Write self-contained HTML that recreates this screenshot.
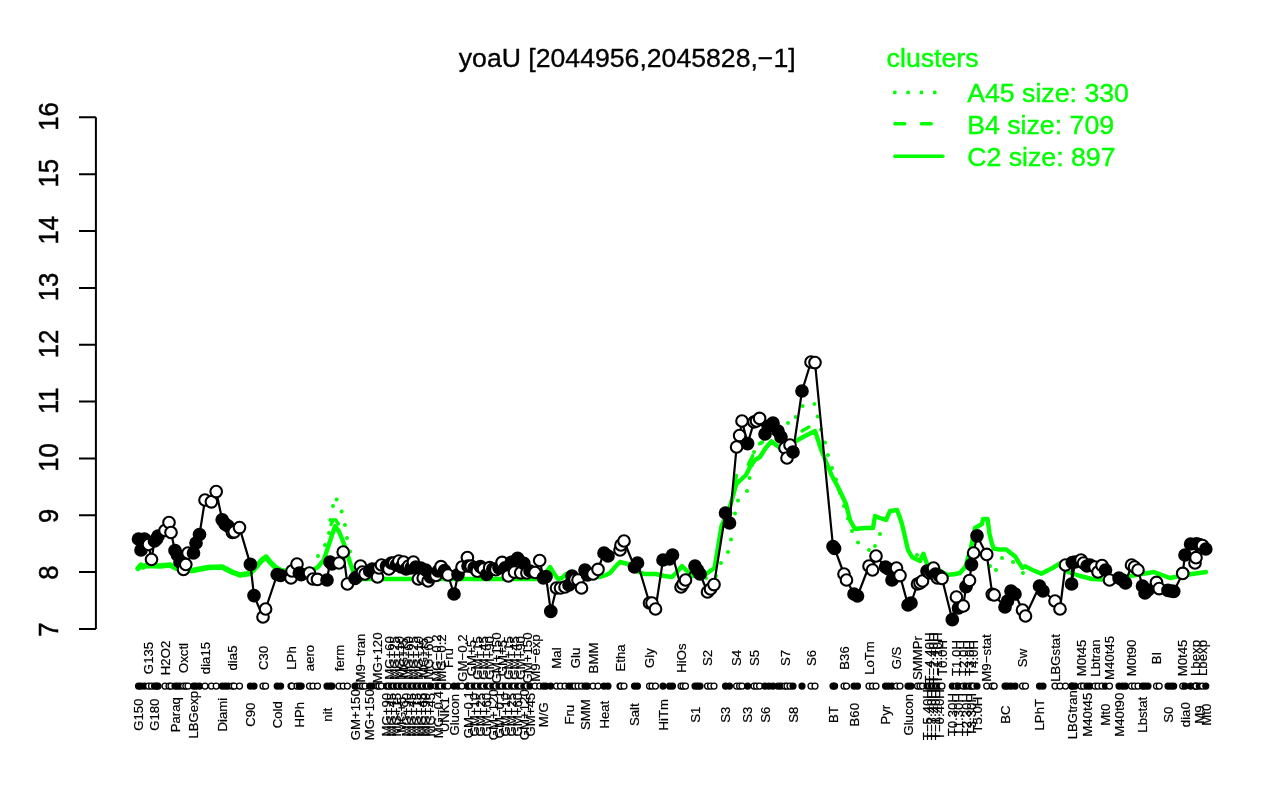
<!DOCTYPE html>
<html><head><meta charset="utf-8"><title>yoaU</title>
<style>html,body{margin:0;padding:0;background:#fff}svg{display:block}text{font-family:"Liberation Sans",sans-serif;}</style></head><body>
<div style="will-change:transform;width:1280px;height:800px">
<svg width="1280" height="800" viewBox="0 0 1280 800">
<text x="458.8" y="67" font-size="26.7" fill="#000" stroke="#000" stroke-width="0.35" textLength="336.8" lengthAdjust="spacingAndGlyphs">yoaU [2044956,2045828,−1]</text>
<g fill="#00ff00" font-size="26.7" stroke="#00ff00" stroke-width="0.4">
<text x="886.6" y="67" textLength="92" lengthAdjust="spacingAndGlyphs">clusters</text>
<text x="967.2" y="102">A45 size: 330</text>
<text x="967.2" y="134">B4 size: 709</text>
<text x="967.2" y="166">C2 size: 897</text>
</g>
<g stroke="#00ff00" stroke-width="3.5" fill="none" stroke-linecap="round">
<path d="M894.8 92.4H944" stroke-width="3.9" stroke-dasharray="0.01 13.32"/>
<path d="M894.9 123.8H944" stroke-dasharray="9.8 16.7"/>
<path d="M894.9 156.2H942.9"/>
</g>
<g stroke="#000" stroke-width="2" fill="none">
<path d="M95.9 629 V117.3 M95.9 629 H79 M95.9 572.1 H79 M95.9 515.3 H79 M95.9 458.4 H79 M95.9 401.6 H79 M95.9 344.8 H79 M95.9 287.9 H79 M95.9 231.1 H79 M95.9 174.2 H79 M95.9 117.3 H79"/>
</g>
<g font-size="28" fill="#000" stroke="#000" stroke-width="0.5" text-anchor="middle" style="filter:grayscale(1)">
<text transform="translate(57.9 629.5) rotate(-90) scale(0.917 1.02)">7</text>
<text transform="translate(57.9 572.6) rotate(-90) scale(0.917 1.02)">8</text>
<text transform="translate(57.9 515.8) rotate(-90) scale(0.917 1.02)">9</text>
<text transform="translate(57.9 457.6) rotate(-90) scale(0.917 1.02)">10</text>
<text transform="translate(57.9 400.7) rotate(-90) scale(0.917 1.02)">11</text>
<text transform="translate(57.9 343.9) rotate(-90) scale(0.917 1.02)">12</text>
<text transform="translate(57.9 287) rotate(-90) scale(0.917 1.02)">13</text>
<text transform="translate(57.9 230.2) rotate(-90) scale(0.917 1.02)">14</text>
<text transform="translate(57.9 173.3) rotate(-90) scale(0.917 1.02)">15</text>
<text transform="translate(57.9 116.4) rotate(-90) scale(0.917 1.02)">16</text>
</g>
<polyline fill="none" stroke="#00ff00" stroke-width="5.4" stroke-linejoin="round" stroke-linecap="round" points="138,568.5 141,565 143,567 146,565.5 160,566 170,565 176,568 185,570 193,570.5 200,569 208,567.5 222,567 232,572 240,575 250,573.5 256,567 262,560 266,557 270,562 276,568 282,571 300,571 312,570"/>
<polyline fill="none" stroke="#00ff00" stroke-width="4.4" stroke-linejoin="round" stroke-linecap="round" points="312,570 317.5,567.5 323.8,560 327.5,548.8 331.2,537.5 335,526.2 338.8,531.2 342.5,540 346.2,550 350,562.5 353,571 356,577 359,579 400,579 450,579 500,579 545,579 548,570 550,567 553,572 558,579 562,578 566,574 575,576 600,577 606,575 610,573 615,567 620,562 628,564 634,570 644,574 656,574 664,576 672,577 677,572 682,566 686,570 692,576 700,575 706,574 714.5,568 717.5,550 721.5,526 729.5,508 733,496 736.3,484 738,482.5 746,475 750.5,466 755,460 760,457 765.6,448 771.5,441.3 776,445 780,448 787,445 794,442 805,436 815,431 818,440 822,452 827,464 832,476 838,487 846,504 850,520 855,529 864,528 873,528 875,516 880,518 886,520 890,511 897,510 899,515 902,524 905,537 908,550 912,557 920,561 923.4,553.7 927,564 935,568 942,572 947.5,575 955,574 960,573 965.4,566.7 971,547.5 975,528 982,524 983,519 987.6,519 989.5,533.7 992,544 993.8,548.8 1000,549.5 1006.2,549.4 1010,552.5 1015,556.2 1018.8,562.5 1022.5,568 1025,566.2 1033.8,570.6 1041.2,573.8 1052.5,568 1060,563.5 1064,568 1068,572 1080,576 1092,579 1110,580 1130,576 1154,572 1162,575 1170,578 1180,576 1192,574 1206,572"/>
<polyline fill="none" stroke="#00ff00" stroke-width="3.4" stroke-linecap="round" points="331,524.5 333.3,519.8"/>
<polyline fill="none" stroke="#00ff00" stroke-width="3.4" stroke-linecap="round" points="335.7,519.8 338.3,524"/>
<polyline fill="none" stroke="#00ff00" stroke-width="3.4" stroke-linecap="round" points="734.8,485.5 736.5,475.5"/>
<polyline fill="none" stroke="#00ff00" stroke-width="3.4" stroke-linecap="round" points="748.3,464.5 752.8,455.5"/>
<polyline fill="none" stroke="#00ff00" stroke-width="3.4" stroke-linecap="round" points="759.5,443.8 762.5,442"/>
<polyline fill="none" stroke="#00ff00" stroke-width="3.4" stroke-linecap="round" points="802,431 809,427"/>
<g fill="#00ff00">
<circle cx="318" cy="556" r="2"/>
<circle cx="325" cy="545" r="2"/>
<circle cx="329" cy="533" r="2"/>
<circle cx="330.4" cy="520" r="2"/>
<circle cx="333" cy="506" r="2"/>
<circle cx="336.6" cy="499.4" r="2"/>
<circle cx="341.6" cy="511.6" r="2"/>
<circle cx="345" cy="525" r="2"/>
<circle cx="347" cy="538" r="2"/>
<circle cx="350" cy="551.5" r="2"/>
<circle cx="706" cy="578" r="2"/>
<circle cx="716" cy="576" r="2"/>
<circle cx="721" cy="563" r="2"/>
<circle cx="728" cy="552" r="2"/>
<circle cx="731" cy="539.6" r="2"/>
<circle cx="733" cy="526" r="2"/>
<circle cx="735" cy="513.6" r="2"/>
<circle cx="738" cy="500.6" r="2"/>
<circle cx="747" cy="491" r="2"/>
<circle cx="749.6" cy="478" r="2"/>
<circle cx="752" cy="465" r="2"/>
<circle cx="754" cy="452" r="2"/>
<circle cx="761" cy="443" r="2"/>
<circle cx="788" cy="423" r="2"/>
<circle cx="795.6" cy="417" r="2"/>
<circle cx="802.6" cy="406" r="2"/>
<circle cx="814.4" cy="404" r="2"/>
<circle cx="817.6" cy="416.6" r="2"/>
<circle cx="821" cy="429.4" r="2"/>
<circle cx="825" cy="442.4" r="2"/>
<circle cx="828" cy="455" r="2"/>
<circle cx="832" cy="468" r="2"/>
<circle cx="836" cy="479.5" r="2"/>
<circle cx="840" cy="493" r="2"/>
<circle cx="844" cy="506" r="2"/>
<circle cx="848" cy="518.5" r="2"/>
<circle cx="852" cy="531" r="2"/>
<circle cx="858" cy="542.4" r="2"/>
<circle cx="869" cy="550" r="2"/>
<circle cx="875" cy="546" r="2"/>
<circle cx="880" cy="534" r="2"/>
<circle cx="917" cy="555" r="2"/>
<circle cx="990" cy="566" r="2"/>
<circle cx="996" cy="570" r="2"/>
<circle cx="1002" cy="558" r="2"/>
<circle cx="1013" cy="562" r="2"/>
<circle cx="1023" cy="573" r="2"/>
</g>
<polyline fill="none" stroke="#000" stroke-width="2.2" stroke-linejoin="round" points="138.5,539 141,550 144.5,539 148.5,544.5 151.5,559.5 154.5,541 156.5,539 158,536 165,530.5 169,522.5 171,532.5 175,550.5 177.5,555 180,562 183.5,569.5 185.8,564.5 188,553 193.5,553 196,543 199.5,534.5 205,500 211.4,501.8 216.2,491.6 222.2,519.8 225.2,524.2 228,526 232.4,532.5 234.2,531.8 239.5,527.6 250.4,564.4 254,595.6 263,617 265.6,609 277.2,574.5 280.6,575.5 291,578 292,571 297,564 299.3,573 301.2,574.6 309.5,573 313,579 317.5,579.4 327,580 330,562 332,564 339,563 343.2,552 347.4,584 355,578.5 356.5,577 360.5,566 362.5,572 365,574 369.7,571 372.3,569 377.5,577 379,568 381.5,565 386.5,566 388.9,569 391.4,563 393.9,563 396.3,565 398.8,561 401.2,567 403.6,562 406.1,569 408.6,566 411,568 413.4,562 415.9,567 418.4,579 420.8,568 423.2,578 425.7,570 428.1,581 430.6,577 436,575.5 438.2,571 441,566.7 444.5,570.6 448,575 454,594 458,574.6 462,567 467.4,557.5 468,566 471.1,566.2 474.2,567.9 477.3,571.2 480.4,566.6 483.5,569 486.6,574.5 489.7,567.7 492.8,569.1 495.9,569.7 499,567.8 502.1,562.4 505.2,567.9 508.3,575.9 511.4,562.3 514.5,572.1 517.6,558.3 520.7,572.8 523.8,563.4 526.9,572.9 530,571 535,572.5 539.7,560.5 543.4,577.8 546,576.7 550.8,611.4 556.5,588 560.5,588 565,587 569,585 572,576 575,579.5 578,580 581.5,588 585,570 587.5,575 593,574 598,569.4 604,553 608,556 620,550 621,545 624,541 634.5,567 637.5,563 649.5,603 652,603 655.5,609 663,560 669.5,559 672.5,555 681,587 683,584 685.5,580 695,566 697.5,570 700,574 707.5,592 710.5,589 714,584.6 725.5,513 729.5,523 736.6,447 739.6,435.6 742,421 747.6,443.6 754,422 756.5,421 759.6,418.4 765,434 769,426 773,423 778,431 781,437 785,448 787,458 790,445 793,452 802,391 811,362 815,362.6 833,546.5 834.6,548.5 844,574 846.5,580 854,594 857.5,596 869,566 872.5,570 876,556 885.5,567 888.5,569 892,580 896.5,568 900,575.6 908,605 911,603 917.5,584 920,583 922.5,581 927,571 929.5,573 931.5,572 933.5,568 935.5,574 937.5,578 939.5,576 942,578.4 952.3,619.7 956.4,597 958.5,608 963.3,606 966,586.7 969.5,580.5 971.5,564.7 973.6,553 977,535.8 986.7,554.4 992.3,594.3 994.2,595 1005,607 1007.5,601 1011,591 1015,594 1022.5,610 1025.5,616 1039.5,586 1043,591 1055,601 1060,609 1065.5,565 1072.3,562.5 1071.6,584 1075,562 1081,560 1083.5,563 1087,566 1090,565 1095,567 1098,572 1102,565.5 1105.5,570 1109.5,580 1119,578 1122.5,580 1125.5,583 1131.5,565 1134.5,567 1138,570 1142.5,586 1145,593 1148,590 1156.5,582.4 1159.2,588.6 1168,590.3 1171,591 1173.7,591.4 1182.7,573.4 1185,555 1190.6,544 1196.5,543.8 1195,563 1196,557.7 1199.3,544.5 1202.5,545.5 1205.8,549"/>
<g stroke="#000" stroke-width="2.1">
<circle cx="138.5" cy="539" r="5.8" fill="#000"/>
<circle cx="141" cy="550" r="5.8" fill="#000"/>
<circle cx="144.5" cy="539" r="5.8" fill="#000"/>
<circle cx="148.5" cy="544.5" r="5.8" fill="#fff"/>
<circle cx="151.5" cy="559.5" r="5.8" fill="#fff"/>
<circle cx="154.5" cy="541" r="5.8" fill="#000"/>
<circle cx="156.5" cy="539" r="5.8" fill="#000"/>
<circle cx="158" cy="536" r="5.8" fill="#000"/>
<circle cx="165" cy="530.5" r="5.8" fill="#fff"/>
<circle cx="169" cy="522.5" r="5.8" fill="#fff"/>
<circle cx="171" cy="532.5" r="5.8" fill="#fff"/>
<circle cx="175" cy="550.5" r="5.8" fill="#000"/>
<circle cx="177.5" cy="555" r="5.8" fill="#000"/>
<circle cx="180" cy="562" r="5.8" fill="#000"/>
<circle cx="183.5" cy="569.5" r="5.8" fill="#fff"/>
<circle cx="185.8" cy="564.5" r="5.8" fill="#fff"/>
<circle cx="188" cy="553" r="5.8" fill="#fff"/>
<circle cx="193.5" cy="553" r="5.8" fill="#000"/>
<circle cx="196" cy="543" r="5.8" fill="#000"/>
<circle cx="199.5" cy="534.5" r="5.8" fill="#000"/>
<circle cx="205" cy="500" r="5.8" fill="#fff"/>
<circle cx="211.4" cy="501.8" r="5.8" fill="#fff"/>
<circle cx="216.2" cy="491.6" r="5.8" fill="#fff"/>
<circle cx="222.2" cy="519.8" r="5.8" fill="#000"/>
<circle cx="225.2" cy="524.2" r="5.8" fill="#000"/>
<circle cx="228" cy="526" r="5.8" fill="#000"/>
<circle cx="232.4" cy="532.5" r="5.8" fill="#fff"/>
<circle cx="234.2" cy="531.8" r="5.8" fill="#fff"/>
<circle cx="239.5" cy="527.6" r="5.8" fill="#fff"/>
<circle cx="250.4" cy="564.4" r="5.8" fill="#000"/>
<circle cx="254" cy="595.6" r="5.8" fill="#000"/>
<circle cx="263" cy="617" r="5.8" fill="#fff"/>
<circle cx="265.6" cy="609" r="5.8" fill="#fff"/>
<circle cx="277.2" cy="574.5" r="5.8" fill="#000"/>
<circle cx="280.6" cy="575.5" r="5.8" fill="#000"/>
<circle cx="291" cy="578" r="5.8" fill="#fff"/>
<circle cx="292" cy="571" r="5.8" fill="#fff"/>
<circle cx="297" cy="564" r="5.8" fill="#fff"/>
<circle cx="299.3" cy="573" r="5.8" fill="#000"/>
<circle cx="301.2" cy="574.6" r="5.8" fill="#000"/>
<circle cx="309.5" cy="573" r="5.8" fill="#fff"/>
<circle cx="313" cy="579" r="5.8" fill="#fff"/>
<circle cx="317.5" cy="579.4" r="5.8" fill="#fff"/>
<circle cx="327" cy="580" r="5.8" fill="#000"/>
<circle cx="330" cy="562" r="5.8" fill="#000"/>
<circle cx="332" cy="564" r="5.8" fill="#000"/>
<circle cx="339" cy="563" r="5.8" fill="#fff"/>
<circle cx="343.2" cy="552" r="5.8" fill="#fff"/>
<circle cx="347.4" cy="584" r="5.8" fill="#fff"/>
<circle cx="355" cy="578.5" r="5.8" fill="#000"/>
<circle cx="356.5" cy="577" r="5.8" fill="#000"/>
<circle cx="360.5" cy="566" r="5.8" fill="#fff"/>
<circle cx="362.5" cy="572" r="5.8" fill="#fff"/>
<circle cx="365" cy="574" r="5.8" fill="#fff"/>
<circle cx="369.7" cy="571" r="5.8" fill="#000"/>
<circle cx="372.3" cy="569" r="5.8" fill="#000"/>
<circle cx="377.5" cy="577" r="5.8" fill="#fff"/>
<circle cx="379" cy="568" r="5.8" fill="#fff"/>
<circle cx="381.5" cy="565" r="5.8" fill="#fff"/>
<circle cx="386.5" cy="566" r="5.8" fill="#000"/>
<circle cx="388.9" cy="569" r="5.8" fill="#fff"/>
<circle cx="391.4" cy="563" r="5.8" fill="#000"/>
<circle cx="393.9" cy="563" r="5.8" fill="#fff"/>
<circle cx="396.3" cy="565" r="5.8" fill="#000"/>
<circle cx="398.8" cy="561" r="5.8" fill="#fff"/>
<circle cx="401.2" cy="567" r="5.8" fill="#000"/>
<circle cx="403.6" cy="562" r="5.8" fill="#fff"/>
<circle cx="406.1" cy="569" r="5.8" fill="#000"/>
<circle cx="408.6" cy="566" r="5.8" fill="#fff"/>
<circle cx="411" cy="568" r="5.8" fill="#000"/>
<circle cx="413.4" cy="562" r="5.8" fill="#fff"/>
<circle cx="415.9" cy="567" r="5.8" fill="#000"/>
<circle cx="418.4" cy="579" r="5.8" fill="#fff"/>
<circle cx="420.8" cy="568" r="5.8" fill="#000"/>
<circle cx="423.2" cy="578" r="5.8" fill="#fff"/>
<circle cx="425.7" cy="570" r="5.8" fill="#000"/>
<circle cx="428.1" cy="581" r="5.8" fill="#fff"/>
<circle cx="430.6" cy="577" r="5.8" fill="#000"/>
<circle cx="436" cy="575.5" r="5.8" fill="#fff"/>
<circle cx="438.2" cy="571" r="5.8" fill="#000"/>
<circle cx="441" cy="566.7" r="5.8" fill="#fff"/>
<circle cx="444.5" cy="570.6" r="5.8" fill="#000"/>
<circle cx="448" cy="575" r="5.8" fill="#fff"/>
<circle cx="454" cy="594" r="5.8" fill="#000"/>
<circle cx="458" cy="574.6" r="5.8" fill="#000"/>
<circle cx="462" cy="567" r="5.8" fill="#fff"/>
<circle cx="467.4" cy="557.5" r="5.8" fill="#fff"/>
<circle cx="468" cy="566" r="5.8" fill="#000"/>
<circle cx="471.1" cy="566.2" r="5.8" fill="#fff"/>
<circle cx="474.2" cy="567.9" r="5.8" fill="#000"/>
<circle cx="477.3" cy="571.2" r="5.8" fill="#fff"/>
<circle cx="480.4" cy="566.6" r="5.8" fill="#000"/>
<circle cx="483.5" cy="569" r="5.8" fill="#fff"/>
<circle cx="486.6" cy="574.5" r="5.8" fill="#000"/>
<circle cx="489.7" cy="567.7" r="5.8" fill="#fff"/>
<circle cx="492.8" cy="569.1" r="5.8" fill="#000"/>
<circle cx="495.9" cy="569.7" r="5.8" fill="#fff"/>
<circle cx="499" cy="567.8" r="5.8" fill="#000"/>
<circle cx="502.1" cy="562.4" r="5.8" fill="#fff"/>
<circle cx="505.2" cy="567.9" r="5.8" fill="#000"/>
<circle cx="508.3" cy="575.9" r="5.8" fill="#fff"/>
<circle cx="511.4" cy="562.3" r="5.8" fill="#000"/>
<circle cx="514.5" cy="572.1" r="5.8" fill="#fff"/>
<circle cx="517.6" cy="558.3" r="5.8" fill="#000"/>
<circle cx="520.7" cy="572.8" r="5.8" fill="#fff"/>
<circle cx="523.8" cy="563.4" r="5.8" fill="#000"/>
<circle cx="526.9" cy="572.9" r="5.8" fill="#fff"/>
<circle cx="530" cy="571" r="5.8" fill="#000"/>
<circle cx="535" cy="572.5" r="5.8" fill="#fff"/>
<circle cx="539.7" cy="560.5" r="5.8" fill="#fff"/>
<circle cx="543.4" cy="577.8" r="5.8" fill="#000"/>
<circle cx="546" cy="576.7" r="5.8" fill="#000"/>
<circle cx="550.8" cy="611.4" r="5.8" fill="#000"/>
<circle cx="556.5" cy="588" r="5.8" fill="#fff"/>
<circle cx="560.5" cy="588" r="5.8" fill="#fff"/>
<circle cx="565" cy="587" r="5.8" fill="#fff"/>
<circle cx="569" cy="585" r="5.8" fill="#000"/>
<circle cx="572" cy="576" r="5.8" fill="#000"/>
<circle cx="575" cy="579.5" r="5.8" fill="#fff"/>
<circle cx="578" cy="580" r="5.8" fill="#fff"/>
<circle cx="581.5" cy="588" r="5.8" fill="#fff"/>
<circle cx="585" cy="570" r="5.8" fill="#000"/>
<circle cx="587.5" cy="575" r="5.8" fill="#000"/>
<circle cx="593" cy="574" r="5.8" fill="#fff"/>
<circle cx="598" cy="569.4" r="5.8" fill="#fff"/>
<circle cx="604" cy="553" r="5.8" fill="#000"/>
<circle cx="608" cy="556" r="5.8" fill="#000"/>
<circle cx="620" cy="550" r="5.8" fill="#fff"/>
<circle cx="621" cy="545" r="5.8" fill="#fff"/>
<circle cx="624" cy="541" r="5.8" fill="#fff"/>
<circle cx="634.5" cy="567" r="5.8" fill="#000"/>
<circle cx="637.5" cy="563" r="5.8" fill="#000"/>
<circle cx="649.5" cy="603" r="5.8" fill="#fff"/>
<circle cx="652" cy="603" r="5.8" fill="#fff"/>
<circle cx="655.5" cy="609" r="5.8" fill="#fff"/>
<circle cx="663" cy="560" r="5.8" fill="#000"/>
<circle cx="669.5" cy="559" r="5.8" fill="#000"/>
<circle cx="672.5" cy="555" r="5.8" fill="#000"/>
<circle cx="681" cy="587" r="5.8" fill="#fff"/>
<circle cx="683" cy="584" r="5.8" fill="#fff"/>
<circle cx="685.5" cy="580" r="5.8" fill="#fff"/>
<circle cx="695" cy="566" r="5.8" fill="#000"/>
<circle cx="697.5" cy="570" r="5.8" fill="#000"/>
<circle cx="700" cy="574" r="5.8" fill="#000"/>
<circle cx="707.5" cy="592" r="5.8" fill="#fff"/>
<circle cx="710.5" cy="589" r="5.8" fill="#fff"/>
<circle cx="714" cy="584.6" r="5.8" fill="#fff"/>
<circle cx="725.5" cy="513" r="5.8" fill="#000"/>
<circle cx="729.5" cy="523" r="5.8" fill="#000"/>
<circle cx="736.6" cy="447" r="5.8" fill="#fff"/>
<circle cx="739.6" cy="435.6" r="5.8" fill="#fff"/>
<circle cx="742" cy="421" r="5.8" fill="#fff"/>
<circle cx="747.6" cy="443.6" r="5.8" fill="#000"/>
<circle cx="754" cy="422" r="5.8" fill="#fff"/>
<circle cx="756.5" cy="421" r="5.8" fill="#fff"/>
<circle cx="759.6" cy="418.4" r="5.8" fill="#fff"/>
<circle cx="765" cy="434" r="5.8" fill="#000"/>
<circle cx="769" cy="426" r="5.8" fill="#000"/>
<circle cx="773" cy="423" r="5.8" fill="#000"/>
<circle cx="778" cy="431" r="5.8" fill="#000"/>
<circle cx="781" cy="437" r="5.8" fill="#000"/>
<circle cx="785" cy="448" r="5.8" fill="#fff"/>
<circle cx="787" cy="458" r="5.8" fill="#fff"/>
<circle cx="790" cy="445" r="5.8" fill="#fff"/>
<circle cx="793" cy="452" r="5.8" fill="#000"/>
<circle cx="802" cy="391" r="5.8" fill="#000"/>
<circle cx="811" cy="362" r="5.8" fill="#fff"/>
<circle cx="815" cy="362.6" r="5.8" fill="#fff"/>
<circle cx="833" cy="546.5" r="5.8" fill="#000"/>
<circle cx="834.6" cy="548.5" r="5.8" fill="#000"/>
<circle cx="844" cy="574" r="5.8" fill="#fff"/>
<circle cx="846.5" cy="580" r="5.8" fill="#fff"/>
<circle cx="854" cy="594" r="5.8" fill="#000"/>
<circle cx="857.5" cy="596" r="5.8" fill="#000"/>
<circle cx="869" cy="566" r="5.8" fill="#fff"/>
<circle cx="872.5" cy="570" r="5.8" fill="#fff"/>
<circle cx="876" cy="556" r="5.8" fill="#fff"/>
<circle cx="885.5" cy="567" r="5.8" fill="#000"/>
<circle cx="888.5" cy="569" r="5.8" fill="#000"/>
<circle cx="892" cy="580" r="5.8" fill="#000"/>
<circle cx="896.5" cy="568" r="5.8" fill="#fff"/>
<circle cx="900" cy="575.6" r="5.8" fill="#fff"/>
<circle cx="908" cy="605" r="5.8" fill="#000"/>
<circle cx="911" cy="603" r="5.8" fill="#000"/>
<circle cx="917.5" cy="584" r="5.8" fill="#fff"/>
<circle cx="920" cy="583" r="5.8" fill="#fff"/>
<circle cx="922.5" cy="581" r="5.8" fill="#fff"/>
<circle cx="927" cy="571" r="5.8" fill="#000"/>
<circle cx="929.5" cy="573" r="5.8" fill="#fff"/>
<circle cx="931.5" cy="572" r="5.8" fill="#000"/>
<circle cx="933.5" cy="568" r="5.8" fill="#fff"/>
<circle cx="935.5" cy="574" r="5.8" fill="#000"/>
<circle cx="937.5" cy="578" r="5.8" fill="#fff"/>
<circle cx="939.5" cy="576" r="5.8" fill="#000"/>
<circle cx="942" cy="578.4" r="5.8" fill="#fff"/>
<circle cx="952.3" cy="619.7" r="5.8" fill="#000"/>
<circle cx="956.4" cy="597" r="5.8" fill="#fff"/>
<circle cx="958.5" cy="608" r="5.8" fill="#000"/>
<circle cx="963.3" cy="606" r="5.8" fill="#fff"/>
<circle cx="966" cy="586.7" r="5.8" fill="#000"/>
<circle cx="969.5" cy="580.5" r="5.8" fill="#fff"/>
<circle cx="971.5" cy="564.7" r="5.8" fill="#000"/>
<circle cx="973.6" cy="553" r="5.8" fill="#fff"/>
<circle cx="977" cy="535.8" r="5.8" fill="#000"/>
<circle cx="986.7" cy="554.4" r="5.8" fill="#fff"/>
<circle cx="992.3" cy="594.3" r="5.8" fill="#fff"/>
<circle cx="994.2" cy="595" r="5.8" fill="#fff"/>
<circle cx="1005" cy="607" r="5.8" fill="#000"/>
<circle cx="1007.5" cy="601" r="5.8" fill="#000"/>
<circle cx="1011" cy="591" r="5.8" fill="#000"/>
<circle cx="1015" cy="594" r="5.8" fill="#000"/>
<circle cx="1022.5" cy="610" r="5.8" fill="#fff"/>
<circle cx="1025.5" cy="616" r="5.8" fill="#fff"/>
<circle cx="1039.5" cy="586" r="5.8" fill="#000"/>
<circle cx="1043" cy="591" r="5.8" fill="#000"/>
<circle cx="1055" cy="601" r="5.8" fill="#fff"/>
<circle cx="1060" cy="609" r="5.8" fill="#fff"/>
<circle cx="1065.5" cy="565" r="5.8" fill="#fff"/>
<circle cx="1072.3" cy="562.5" r="5.8" fill="#000"/>
<circle cx="1071.6" cy="584" r="5.8" fill="#000"/>
<circle cx="1075" cy="562" r="5.8" fill="#000"/>
<circle cx="1081" cy="560" r="5.8" fill="#fff"/>
<circle cx="1083.5" cy="563" r="5.8" fill="#fff"/>
<circle cx="1087" cy="566" r="5.8" fill="#000"/>
<circle cx="1090" cy="565" r="5.8" fill="#000"/>
<circle cx="1095" cy="567" r="5.8" fill="#fff"/>
<circle cx="1098" cy="572" r="5.8" fill="#fff"/>
<circle cx="1102" cy="565.5" r="5.8" fill="#fff"/>
<circle cx="1105.5" cy="570" r="5.8" fill="#000"/>
<circle cx="1109.5" cy="580" r="5.8" fill="#fff"/>
<circle cx="1119" cy="578" r="5.8" fill="#000"/>
<circle cx="1122.5" cy="580" r="5.8" fill="#000"/>
<circle cx="1125.5" cy="583" r="5.8" fill="#000"/>
<circle cx="1131.5" cy="565" r="5.8" fill="#fff"/>
<circle cx="1134.5" cy="567" r="5.8" fill="#fff"/>
<circle cx="1138" cy="570" r="5.8" fill="#fff"/>
<circle cx="1142.5" cy="586" r="5.8" fill="#000"/>
<circle cx="1145" cy="593" r="5.8" fill="#000"/>
<circle cx="1148" cy="590" r="5.8" fill="#000"/>
<circle cx="1156.5" cy="582.4" r="5.8" fill="#fff"/>
<circle cx="1159.2" cy="588.6" r="5.8" fill="#fff"/>
<circle cx="1168" cy="590.3" r="5.8" fill="#000"/>
<circle cx="1171" cy="591" r="5.8" fill="#000"/>
<circle cx="1173.7" cy="591.4" r="5.8" fill="#000"/>
<circle cx="1182.7" cy="573.4" r="5.8" fill="#fff"/>
<circle cx="1185" cy="555" r="5.8" fill="#000"/>
<circle cx="1190.6" cy="544" r="5.8" fill="#000"/>
<circle cx="1196.5" cy="543.8" r="5.8" fill="#000"/>
<circle cx="1195" cy="563" r="5.8" fill="#fff"/>
<circle cx="1196" cy="557.7" r="5.8" fill="#fff"/>
<circle cx="1199.3" cy="544.5" r="5.8" fill="#000"/>
<circle cx="1202.5" cy="545.5" r="5.8" fill="#fff"/>
<circle cx="1205.8" cy="549" r="5.8" fill="#000"/>
</g>
<g stroke="#000" stroke-width="1.3">
<circle cx="138.5" cy="686.1" r="2.95" fill="#000"/>
<circle cx="141" cy="686.1" r="2.95" fill="#000"/>
<circle cx="144.5" cy="686.1" r="2.95" fill="#000"/>
<circle cx="148.5" cy="686.1" r="2.95" fill="#fff"/>
<circle cx="151.5" cy="686.1" r="2.95" fill="#fff"/>
<circle cx="154.5" cy="686.1" r="2.95" fill="#000"/>
<circle cx="156.5" cy="686.1" r="2.95" fill="#000"/>
<circle cx="158" cy="686.1" r="2.95" fill="#000"/>
<circle cx="165" cy="686.1" r="2.95" fill="#fff"/>
<circle cx="169" cy="686.1" r="2.95" fill="#fff"/>
<circle cx="171" cy="686.1" r="2.95" fill="#fff"/>
<circle cx="175" cy="686.1" r="2.95" fill="#000"/>
<circle cx="177.5" cy="686.1" r="2.95" fill="#000"/>
<circle cx="180" cy="686.1" r="2.95" fill="#000"/>
<circle cx="183.5" cy="686.1" r="2.95" fill="#fff"/>
<circle cx="185.8" cy="686.1" r="2.95" fill="#fff"/>
<circle cx="188" cy="686.1" r="2.95" fill="#fff"/>
<circle cx="193.5" cy="686.1" r="2.95" fill="#000"/>
<circle cx="196" cy="686.1" r="2.95" fill="#000"/>
<circle cx="199.5" cy="686.1" r="2.95" fill="#000"/>
<circle cx="205" cy="686.1" r="2.95" fill="#fff"/>
<circle cx="211.4" cy="686.1" r="2.95" fill="#fff"/>
<circle cx="216.2" cy="686.1" r="2.95" fill="#fff"/>
<circle cx="222.2" cy="686.1" r="2.95" fill="#000"/>
<circle cx="225.2" cy="686.1" r="2.95" fill="#000"/>
<circle cx="228" cy="686.1" r="2.95" fill="#000"/>
<circle cx="232.4" cy="686.1" r="2.95" fill="#fff"/>
<circle cx="234.2" cy="686.1" r="2.95" fill="#fff"/>
<circle cx="239.5" cy="686.1" r="2.95" fill="#fff"/>
<circle cx="250.4" cy="686.1" r="2.95" fill="#000"/>
<circle cx="254" cy="686.1" r="2.95" fill="#000"/>
<circle cx="263" cy="686.1" r="2.95" fill="#fff"/>
<circle cx="265.6" cy="686.1" r="2.95" fill="#fff"/>
<circle cx="277.2" cy="686.1" r="2.95" fill="#000"/>
<circle cx="280.6" cy="686.1" r="2.95" fill="#000"/>
<circle cx="291" cy="686.1" r="2.95" fill="#fff"/>
<circle cx="292" cy="686.1" r="2.95" fill="#fff"/>
<circle cx="297" cy="686.1" r="2.95" fill="#fff"/>
<circle cx="299.3" cy="686.1" r="2.95" fill="#000"/>
<circle cx="301.2" cy="686.1" r="2.95" fill="#000"/>
<circle cx="309.5" cy="686.1" r="2.95" fill="#fff"/>
<circle cx="313" cy="686.1" r="2.95" fill="#fff"/>
<circle cx="317.5" cy="686.1" r="2.95" fill="#fff"/>
<circle cx="327" cy="686.1" r="2.95" fill="#000"/>
<circle cx="330" cy="686.1" r="2.95" fill="#000"/>
<circle cx="332" cy="686.1" r="2.95" fill="#000"/>
<circle cx="339" cy="686.1" r="2.95" fill="#fff"/>
<circle cx="343.2" cy="686.1" r="2.95" fill="#fff"/>
<circle cx="347.4" cy="686.1" r="2.95" fill="#fff"/>
<circle cx="355" cy="686.1" r="2.95" fill="#000"/>
<circle cx="356.5" cy="686.1" r="2.95" fill="#000"/>
<circle cx="360.5" cy="686.1" r="2.95" fill="#fff"/>
<circle cx="362.5" cy="686.1" r="2.95" fill="#fff"/>
<circle cx="365" cy="686.1" r="2.95" fill="#fff"/>
<circle cx="369.7" cy="686.1" r="2.95" fill="#000"/>
<circle cx="372.3" cy="686.1" r="2.95" fill="#000"/>
<circle cx="377.5" cy="686.1" r="2.95" fill="#fff"/>
<circle cx="379" cy="686.1" r="2.95" fill="#fff"/>
<circle cx="381.5" cy="686.1" r="2.95" fill="#fff"/>
<circle cx="386.5" cy="686.1" r="2.95" fill="#000"/>
<circle cx="388.9" cy="686.1" r="2.95" fill="#fff"/>
<circle cx="391.4" cy="686.1" r="2.95" fill="#000"/>
<circle cx="393.9" cy="686.1" r="2.95" fill="#fff"/>
<circle cx="396.3" cy="686.1" r="2.95" fill="#000"/>
<circle cx="398.8" cy="686.1" r="2.95" fill="#fff"/>
<circle cx="401.2" cy="686.1" r="2.95" fill="#000"/>
<circle cx="403.6" cy="686.1" r="2.95" fill="#fff"/>
<circle cx="406.1" cy="686.1" r="2.95" fill="#000"/>
<circle cx="408.6" cy="686.1" r="2.95" fill="#fff"/>
<circle cx="411" cy="686.1" r="2.95" fill="#000"/>
<circle cx="413.4" cy="686.1" r="2.95" fill="#fff"/>
<circle cx="415.9" cy="686.1" r="2.95" fill="#000"/>
<circle cx="418.4" cy="686.1" r="2.95" fill="#fff"/>
<circle cx="420.8" cy="686.1" r="2.95" fill="#000"/>
<circle cx="423.2" cy="686.1" r="2.95" fill="#fff"/>
<circle cx="425.7" cy="686.1" r="2.95" fill="#000"/>
<circle cx="428.1" cy="686.1" r="2.95" fill="#fff"/>
<circle cx="430.6" cy="686.1" r="2.95" fill="#000"/>
<circle cx="436" cy="686.1" r="2.95" fill="#fff"/>
<circle cx="438.2" cy="686.1" r="2.95" fill="#000"/>
<circle cx="441" cy="686.1" r="2.95" fill="#fff"/>
<circle cx="444.5" cy="686.1" r="2.95" fill="#000"/>
<circle cx="448" cy="686.1" r="2.95" fill="#fff"/>
<circle cx="454" cy="686.1" r="2.95" fill="#000"/>
<circle cx="458" cy="686.1" r="2.95" fill="#000"/>
<circle cx="462" cy="686.1" r="2.95" fill="#fff"/>
<circle cx="467.4" cy="686.1" r="2.95" fill="#fff"/>
<circle cx="468" cy="686.1" r="2.95" fill="#000"/>
<circle cx="471.1" cy="686.1" r="2.95" fill="#fff"/>
<circle cx="474.2" cy="686.1" r="2.95" fill="#000"/>
<circle cx="477.3" cy="686.1" r="2.95" fill="#fff"/>
<circle cx="480.4" cy="686.1" r="2.95" fill="#000"/>
<circle cx="483.5" cy="686.1" r="2.95" fill="#fff"/>
<circle cx="486.6" cy="686.1" r="2.95" fill="#000"/>
<circle cx="489.7" cy="686.1" r="2.95" fill="#fff"/>
<circle cx="492.8" cy="686.1" r="2.95" fill="#000"/>
<circle cx="495.9" cy="686.1" r="2.95" fill="#fff"/>
<circle cx="499" cy="686.1" r="2.95" fill="#000"/>
<circle cx="502.1" cy="686.1" r="2.95" fill="#fff"/>
<circle cx="505.2" cy="686.1" r="2.95" fill="#000"/>
<circle cx="508.3" cy="686.1" r="2.95" fill="#fff"/>
<circle cx="511.4" cy="686.1" r="2.95" fill="#000"/>
<circle cx="514.5" cy="686.1" r="2.95" fill="#fff"/>
<circle cx="517.6" cy="686.1" r="2.95" fill="#000"/>
<circle cx="520.7" cy="686.1" r="2.95" fill="#fff"/>
<circle cx="523.8" cy="686.1" r="2.95" fill="#000"/>
<circle cx="526.9" cy="686.1" r="2.95" fill="#fff"/>
<circle cx="530" cy="686.1" r="2.95" fill="#000"/>
<circle cx="535" cy="686.1" r="2.95" fill="#fff"/>
<circle cx="539.7" cy="686.1" r="2.95" fill="#fff"/>
<circle cx="543.4" cy="686.1" r="2.95" fill="#000"/>
<circle cx="546" cy="686.1" r="2.95" fill="#000"/>
<circle cx="550.8" cy="686.1" r="2.95" fill="#000"/>
<circle cx="556.5" cy="686.1" r="2.95" fill="#fff"/>
<circle cx="560.5" cy="686.1" r="2.95" fill="#fff"/>
<circle cx="565" cy="686.1" r="2.95" fill="#fff"/>
<circle cx="569" cy="686.1" r="2.95" fill="#000"/>
<circle cx="572" cy="686.1" r="2.95" fill="#000"/>
<circle cx="575" cy="686.1" r="2.95" fill="#fff"/>
<circle cx="578" cy="686.1" r="2.95" fill="#fff"/>
<circle cx="581.5" cy="686.1" r="2.95" fill="#fff"/>
<circle cx="585" cy="686.1" r="2.95" fill="#000"/>
<circle cx="587.5" cy="686.1" r="2.95" fill="#000"/>
<circle cx="593" cy="686.1" r="2.95" fill="#fff"/>
<circle cx="598" cy="686.1" r="2.95" fill="#fff"/>
<circle cx="604" cy="686.1" r="2.95" fill="#000"/>
<circle cx="608" cy="686.1" r="2.95" fill="#000"/>
<circle cx="620" cy="686.1" r="2.95" fill="#fff"/>
<circle cx="621" cy="686.1" r="2.95" fill="#fff"/>
<circle cx="624" cy="686.1" r="2.95" fill="#fff"/>
<circle cx="634.5" cy="686.1" r="2.95" fill="#000"/>
<circle cx="637.5" cy="686.1" r="2.95" fill="#000"/>
<circle cx="649.5" cy="686.1" r="2.95" fill="#fff"/>
<circle cx="652" cy="686.1" r="2.95" fill="#fff"/>
<circle cx="655.5" cy="686.1" r="2.95" fill="#fff"/>
<circle cx="663" cy="686.1" r="2.95" fill="#000"/>
<circle cx="669.5" cy="686.1" r="2.95" fill="#000"/>
<circle cx="672.5" cy="686.1" r="2.95" fill="#000"/>
<circle cx="681" cy="686.1" r="2.95" fill="#fff"/>
<circle cx="683" cy="686.1" r="2.95" fill="#fff"/>
<circle cx="685.5" cy="686.1" r="2.95" fill="#fff"/>
<circle cx="695" cy="686.1" r="2.95" fill="#000"/>
<circle cx="697.5" cy="686.1" r="2.95" fill="#000"/>
<circle cx="700" cy="686.1" r="2.95" fill="#000"/>
<circle cx="707.5" cy="686.1" r="2.95" fill="#fff"/>
<circle cx="710.5" cy="686.1" r="2.95" fill="#fff"/>
<circle cx="714" cy="686.1" r="2.95" fill="#fff"/>
<circle cx="725.5" cy="686.1" r="2.95" fill="#000"/>
<circle cx="729.5" cy="686.1" r="2.95" fill="#000"/>
<circle cx="736.6" cy="686.1" r="2.95" fill="#fff"/>
<circle cx="739.6" cy="686.1" r="2.95" fill="#fff"/>
<circle cx="742" cy="686.1" r="2.95" fill="#fff"/>
<circle cx="747.6" cy="686.1" r="2.95" fill="#000"/>
<circle cx="754" cy="686.1" r="2.95" fill="#fff"/>
<circle cx="756.5" cy="686.1" r="2.95" fill="#fff"/>
<circle cx="759.6" cy="686.1" r="2.95" fill="#fff"/>
<circle cx="765" cy="686.1" r="2.95" fill="#000"/>
<circle cx="769" cy="686.1" r="2.95" fill="#000"/>
<circle cx="773" cy="686.1" r="2.95" fill="#000"/>
<circle cx="778" cy="686.1" r="2.95" fill="#000"/>
<circle cx="781" cy="686.1" r="2.95" fill="#000"/>
<circle cx="785" cy="686.1" r="2.95" fill="#fff"/>
<circle cx="787" cy="686.1" r="2.95" fill="#fff"/>
<circle cx="790" cy="686.1" r="2.95" fill="#fff"/>
<circle cx="793" cy="686.1" r="2.95" fill="#000"/>
<circle cx="802" cy="686.1" r="2.95" fill="#000"/>
<circle cx="811" cy="686.1" r="2.95" fill="#fff"/>
<circle cx="815" cy="686.1" r="2.95" fill="#fff"/>
<circle cx="833" cy="686.1" r="2.95" fill="#000"/>
<circle cx="834.6" cy="686.1" r="2.95" fill="#000"/>
<circle cx="844" cy="686.1" r="2.95" fill="#fff"/>
<circle cx="846.5" cy="686.1" r="2.95" fill="#fff"/>
<circle cx="854" cy="686.1" r="2.95" fill="#000"/>
<circle cx="857.5" cy="686.1" r="2.95" fill="#000"/>
<circle cx="869" cy="686.1" r="2.95" fill="#fff"/>
<circle cx="872.5" cy="686.1" r="2.95" fill="#fff"/>
<circle cx="876" cy="686.1" r="2.95" fill="#fff"/>
<circle cx="885.5" cy="686.1" r="2.95" fill="#000"/>
<circle cx="888.5" cy="686.1" r="2.95" fill="#000"/>
<circle cx="892" cy="686.1" r="2.95" fill="#000"/>
<circle cx="896.5" cy="686.1" r="2.95" fill="#fff"/>
<circle cx="900" cy="686.1" r="2.95" fill="#fff"/>
<circle cx="908" cy="686.1" r="2.95" fill="#000"/>
<circle cx="911" cy="686.1" r="2.95" fill="#000"/>
<circle cx="917.5" cy="686.1" r="2.95" fill="#fff"/>
<circle cx="920" cy="686.1" r="2.95" fill="#fff"/>
<circle cx="922.5" cy="686.1" r="2.95" fill="#fff"/>
<circle cx="927" cy="686.1" r="2.95" fill="#000"/>
<circle cx="929.5" cy="686.1" r="2.95" fill="#fff"/>
<circle cx="931.5" cy="686.1" r="2.95" fill="#000"/>
<circle cx="933.5" cy="686.1" r="2.95" fill="#fff"/>
<circle cx="935.5" cy="686.1" r="2.95" fill="#000"/>
<circle cx="937.5" cy="686.1" r="2.95" fill="#fff"/>
<circle cx="939.5" cy="686.1" r="2.95" fill="#000"/>
<circle cx="942" cy="686.1" r="2.95" fill="#fff"/>
<circle cx="952.3" cy="686.1" r="2.95" fill="#000"/>
<circle cx="956.4" cy="686.1" r="2.95" fill="#fff"/>
<circle cx="958.5" cy="686.1" r="2.95" fill="#000"/>
<circle cx="963.3" cy="686.1" r="2.95" fill="#fff"/>
<circle cx="966" cy="686.1" r="2.95" fill="#000"/>
<circle cx="969.5" cy="686.1" r="2.95" fill="#fff"/>
<circle cx="971.5" cy="686.1" r="2.95" fill="#000"/>
<circle cx="973.6" cy="686.1" r="2.95" fill="#fff"/>
<circle cx="977" cy="686.1" r="2.95" fill="#000"/>
<circle cx="986.7" cy="686.1" r="2.95" fill="#fff"/>
<circle cx="992.3" cy="686.1" r="2.95" fill="#fff"/>
<circle cx="994.2" cy="686.1" r="2.95" fill="#fff"/>
<circle cx="1005" cy="686.1" r="2.95" fill="#000"/>
<circle cx="1007.5" cy="686.1" r="2.95" fill="#000"/>
<circle cx="1011" cy="686.1" r="2.95" fill="#000"/>
<circle cx="1015" cy="686.1" r="2.95" fill="#000"/>
<circle cx="1022.5" cy="686.1" r="2.95" fill="#fff"/>
<circle cx="1025.5" cy="686.1" r="2.95" fill="#fff"/>
<circle cx="1039.5" cy="686.1" r="2.95" fill="#000"/>
<circle cx="1043" cy="686.1" r="2.95" fill="#000"/>
<circle cx="1055" cy="686.1" r="2.95" fill="#fff"/>
<circle cx="1060" cy="686.1" r="2.95" fill="#fff"/>
<circle cx="1065.5" cy="686.1" r="2.95" fill="#fff"/>
<circle cx="1072.3" cy="686.1" r="2.95" fill="#000"/>
<circle cx="1071.6" cy="686.1" r="2.95" fill="#000"/>
<circle cx="1075" cy="686.1" r="2.95" fill="#000"/>
<circle cx="1081" cy="686.1" r="2.95" fill="#fff"/>
<circle cx="1083.5" cy="686.1" r="2.95" fill="#fff"/>
<circle cx="1087" cy="686.1" r="2.95" fill="#000"/>
<circle cx="1090" cy="686.1" r="2.95" fill="#000"/>
<circle cx="1095" cy="686.1" r="2.95" fill="#fff"/>
<circle cx="1098" cy="686.1" r="2.95" fill="#fff"/>
<circle cx="1102" cy="686.1" r="2.95" fill="#fff"/>
<circle cx="1105.5" cy="686.1" r="2.95" fill="#000"/>
<circle cx="1109.5" cy="686.1" r="2.95" fill="#fff"/>
<circle cx="1119" cy="686.1" r="2.95" fill="#000"/>
<circle cx="1122.5" cy="686.1" r="2.95" fill="#000"/>
<circle cx="1125.5" cy="686.1" r="2.95" fill="#000"/>
<circle cx="1131.5" cy="686.1" r="2.95" fill="#fff"/>
<circle cx="1134.5" cy="686.1" r="2.95" fill="#fff"/>
<circle cx="1138" cy="686.1" r="2.95" fill="#fff"/>
<circle cx="1142.5" cy="686.1" r="2.95" fill="#000"/>
<circle cx="1145" cy="686.1" r="2.95" fill="#000"/>
<circle cx="1148" cy="686.1" r="2.95" fill="#000"/>
<circle cx="1156.5" cy="686.1" r="2.95" fill="#fff"/>
<circle cx="1159.2" cy="686.1" r="2.95" fill="#fff"/>
<circle cx="1168" cy="686.1" r="2.95" fill="#000"/>
<circle cx="1171" cy="686.1" r="2.95" fill="#000"/>
<circle cx="1173.7" cy="686.1" r="2.95" fill="#000"/>
<circle cx="1182.7" cy="686.1" r="2.95" fill="#fff"/>
<circle cx="1185" cy="686.1" r="2.95" fill="#000"/>
<circle cx="1190.6" cy="686.1" r="2.95" fill="#000"/>
<circle cx="1196.5" cy="686.1" r="2.95" fill="#000"/>
<circle cx="1195" cy="686.1" r="2.95" fill="#fff"/>
<circle cx="1196" cy="686.1" r="2.95" fill="#fff"/>
<circle cx="1199.3" cy="686.1" r="2.95" fill="#000"/>
<circle cx="1202.5" cy="686.1" r="2.95" fill="#fff"/>
<circle cx="1205.8" cy="686.1" r="2.95" fill="#000"/>
</g>
<g font-size="13.2" fill="#000" stroke="#000" stroke-width="0.2" text-anchor="middle" style="filter:grayscale(1)">
<text transform="translate(143.2 714.7) rotate(-90)">G150</text>
<text transform="translate(153.2 658) rotate(-90)">G135</text>
<text transform="translate(159.2 714.7) rotate(-90)">G180</text>
<text transform="translate(169.7 658) rotate(-90)">H2O2</text>
<text transform="translate(179.7 714.7) rotate(-90)">Paraq</text>
<text transform="translate(188.2 658) rotate(-90)">Oxctl</text>
<text transform="translate(198.2 714.7) rotate(-90)">LBGexp</text>
<text transform="translate(209.7 658) rotate(-90)">dia15</text>
<text transform="translate(226.9 714.7) rotate(-90)">Diami</text>
<text transform="translate(237.1 658) rotate(-90)">dia5</text>
<text transform="translate(255.1 714.7) rotate(-90)">C90</text>
<text transform="translate(267.7 658) rotate(-90)">C30</text>
<text transform="translate(281.9 714.7) rotate(-90)">Cold</text>
<text transform="translate(295.7 658) rotate(-90)">LPh</text>
<text transform="translate(304 714.7) rotate(-90)">HPh</text>
<text transform="translate(314.2 658) rotate(-90)">aero</text>
<text transform="translate(331.7 714.7) rotate(-90)">nit</text>
<text transform="translate(343.7 658) rotate(-90)">ferm</text>
<text transform="translate(359.7 714.7) rotate(-90)">GM+150</text>
<text transform="translate(365.2 658) rotate(-90)">M9−tran</text>
<text transform="translate(374.4 714.7) rotate(-90)">MG+150</text>
<text transform="translate(382.2 658) rotate(-90)">MG+120</text>
<text transform="translate(391.2 714.7) rotate(-90)">MG+90</text>
<text transform="translate(393.6 658) rotate(-90)">MG+60</text>
<text transform="translate(396.1 714.7) rotate(-90)">MG+45</text>
<text transform="translate(398.6 658) rotate(-90)">MG+25</text>
<text transform="translate(401 714.7) rotate(-90)">MG+15</text>
<text transform="translate(403.5 658) rotate(-90)">MG+10</text>
<text transform="translate(405.9 714.7) rotate(-90)">MG+5</text>
<text transform="translate(408.3 658) rotate(-90)">MG+t5</text>
<text transform="translate(410.8 714.7) rotate(-90)">MG+90</text>
<text transform="translate(413.3 658) rotate(-90)">MG+60</text>
<text transform="translate(415.7 714.7) rotate(-90)">MG+45</text>
<text transform="translate(418.1 658) rotate(-90)">MG+25</text>
<text transform="translate(420.6 714.7) rotate(-90)">MG+15</text>
<text transform="translate(423.1 658) rotate(-90)">MG+10</text>
<text transform="translate(425.5 714.7) rotate(-90)">MG+45</text>
<text transform="translate(427.9 658) rotate(-90)">MG+t5</text>
<text transform="translate(430.4 714.7) rotate(-90)">MG+90</text>
<text transform="translate(432.8 658) rotate(-90)">MG+60</text>
<text transform="translate(435.3 714.7) rotate(-90)">MG+45</text>
<text transform="translate(440.7 658) rotate(-90)">MG−0.2</text>
<text transform="translate(442.9 714.7) rotate(-90)">MG−0.4</text>
<text transform="translate(445.7 658) rotate(-90)">MG−0.2</text>
<text transform="translate(449.2 714.7) rotate(-90)">UNK1</text>
<text transform="translate(452.7 658) rotate(-90)">Fru</text>
<text transform="translate(458.7 714.7) rotate(-90)">Glucon</text>
<text transform="translate(466.7 658) rotate(-90)">GM−0.2</text>
<text transform="translate(472.7 714.7) rotate(-90)">GM−0.1</text>
<text transform="translate(475.8 658) rotate(-90)">GM+5</text>
<text transform="translate(478.9 714.7) rotate(-90)">GM+10</text>
<text transform="translate(482 658) rotate(-90)">GM+15</text>
<text transform="translate(485.1 714.7) rotate(-90)">GM+25</text>
<text transform="translate(488.2 658) rotate(-90)">GM+45</text>
<text transform="translate(491.3 714.7) rotate(-90)">GM+60</text>
<text transform="translate(494.4 658) rotate(-90)">GM+90</text>
<text transform="translate(497.5 714.7) rotate(-90)">GM+120</text>
<text transform="translate(500.6 658) rotate(-90)">GM+150</text>
<text transform="translate(503.7 714.7) rotate(-90)">GM−0.1</text>
<text transform="translate(506.8 658) rotate(-90)">GM+5</text>
<text transform="translate(509.9 714.7) rotate(-90)">GM+10</text>
<text transform="translate(513 658) rotate(-90)">GM+15</text>
<text transform="translate(516.1 714.7) rotate(-90)">GM+25</text>
<text transform="translate(519.2 658) rotate(-90)">GM+45</text>
<text transform="translate(522.3 714.7) rotate(-90)">GM+60</text>
<text transform="translate(525.4 658) rotate(-90)">GM+90</text>
<text transform="translate(528.5 714.7) rotate(-90)">GM+120</text>
<text transform="translate(531.6 658) rotate(-90)">GM+150</text>
<text transform="translate(534.7 714.7) rotate(-90)">GM+45</text>
<text transform="translate(539.7 658) rotate(-90)">M9−exp</text>
<text transform="translate(548.1 714.7) rotate(-90)">M/G</text>
<text transform="translate(561.2 658) rotate(-90)">Mal</text>
<text transform="translate(573.7 714.7) rotate(-90)">Fru</text>
<text transform="translate(579.7 658) rotate(-90)">Glu</text>
<text transform="translate(589.7 714.7) rotate(-90)">SMM</text>
<text transform="translate(597.7 658) rotate(-90)">BMM</text>
<text transform="translate(608.7 714.7) rotate(-90)">Heat</text>
<text transform="translate(624.7 658) rotate(-90)">Etha</text>
<text transform="translate(639.2 714.7) rotate(-90)">Salt</text>
<text transform="translate(654.2 658) rotate(-90)">Gly</text>
<text transform="translate(667.7 714.7) rotate(-90)">HiTm</text>
<text transform="translate(685.7 658) rotate(-90)">HiOs</text>
<text transform="translate(699.7 714.7) rotate(-90)">S1</text>
<text transform="translate(712.2 658) rotate(-90)">S2</text>
<text transform="translate(730.2 714.7) rotate(-90)">S3</text>
<text transform="translate(741.3 658) rotate(-90)">S4</text>
<text transform="translate(752.3 714.7) rotate(-90)">S3</text>
<text transform="translate(758.7 658) rotate(-90)">S5</text>
<text transform="translate(769.7 714.7) rotate(-90)">S6</text>
<text transform="translate(789.7 658) rotate(-90)">S7</text>
<text transform="translate(797.7 714.7) rotate(-90)">S8</text>
<text transform="translate(815.7 658) rotate(-90)">S6</text>
<text transform="translate(837.7 714.7) rotate(-90)">BT</text>
<text transform="translate(848.7 658) rotate(-90)">B36</text>
<text transform="translate(858.7 714.7) rotate(-90)">B60</text>
<text transform="translate(873.7 658) rotate(-90)">LoTm</text>
<text transform="translate(890.2 714.7) rotate(-90)">Pyr</text>
<text transform="translate(901.2 658) rotate(-90)">G/S</text>
<text transform="translate(912.7 714.7) rotate(-90)">Glucon</text>
<text transform="translate(922.2 658) rotate(-90)">SMMPr</text>
<text transform="translate(931.7 714.7) rotate(-90)">T−5.40H</text>
<text transform="translate(934.2 658) rotate(-90)">T−4.40H</text>
<text transform="translate(936.2 714.7) rotate(-90)">T−3.40H</text>
<text transform="translate(938.2 658) rotate(-90)">T−2.40H</text>
<text transform="translate(940.2 714.7) rotate(-90)">T−1.40H</text>
<text transform="translate(942.2 658) rotate(-90)">T−1.10H</text>
<text transform="translate(944.2 714.7) rotate(-90)">T−0.40H</text>
<text transform="translate(946.7 658) rotate(-90)">T0.0H</text>
<text transform="translate(957 714.7) rotate(-90)">T0.30H</text>
<text transform="translate(961.1 658) rotate(-90)">T1.0H</text>
<text transform="translate(963.2 714.7) rotate(-90)">T1.30H</text>
<text transform="translate(968 658) rotate(-90)">T2.0H</text>
<text transform="translate(970.7 714.7) rotate(-90)">T2.30H</text>
<text transform="translate(974.2 658) rotate(-90)">T3.0H</text>
<text transform="translate(976.2 714.7) rotate(-90)">T3.30H</text>
<text transform="translate(978.3 658) rotate(-90)">T4.0H</text>
<text transform="translate(981.7 714.7) rotate(-90)">T5.0H</text>
<text transform="translate(991.4 658) rotate(-90)">M9−stat</text>
<text transform="translate(1009.7 714.7) rotate(-90)">BC</text>
<text transform="translate(1027.2 658) rotate(-90)">Sw</text>
<text transform="translate(1044.2 714.7) rotate(-90)">LPhT</text>
<text transform="translate(1059.7 658) rotate(-90)">LBGstat</text>
<text transform="translate(1077 714.7) rotate(-90)">LBGtran</text>
<text transform="translate(1085.7 658) rotate(-90)">M0t45</text>
<text transform="translate(1091.7 714.7) rotate(-90)">M40t45</text>
<text transform="translate(1099.7 658) rotate(-90)">Lbtran</text>
<text transform="translate(1110.2 714.7) rotate(-90)">Mt0</text>
<text transform="translate(1114.2 658) rotate(-90)">M40t45</text>
<text transform="translate(1123.7 714.7) rotate(-90)">M40t90</text>
<text transform="translate(1136.2 658) rotate(-90)">M0t90</text>
<text transform="translate(1147.2 714.7) rotate(-90)">Lbstat</text>
<text transform="translate(1161.2 658) rotate(-90)">BI</text>
<text transform="translate(1172.7 714.7) rotate(-90)">S0</text>
<text transform="translate(1187.4 658) rotate(-90)">M0t45</text>
<text transform="translate(1189.7 714.7) rotate(-90)">dia0</text>
<text transform="translate(1199.7 658) rotate(-90)">Lbexp</text>
<text transform="translate(1204 714.7) rotate(-90)">M9</text>
<text transform="translate(1207.2 658) rotate(-90)">Lbexp</text>
<text transform="translate(1210.5 714.7) rotate(-90)">Mt0</text>
</g>
</svg></div></body></html>
